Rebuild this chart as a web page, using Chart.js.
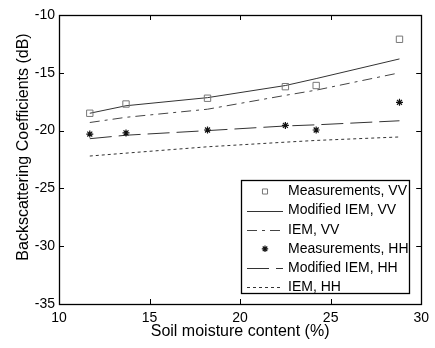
<!DOCTYPE html>
<html>
<head>
<meta charset="utf-8">
<script src="https://cdn.jsdelivr.net/npm/chart.js@4/dist/chart.umd.min.js"></script>
<style>
html,body{margin:0;padding:0;background:#fff;}
canvas{display:block;}
</style>
</head>
<body>
<canvas id="c" width="435" height="348"></canvas>
<script>
const moisture = [11.7, 13.7, 18.2, 22.5, 24.2, 28.8];
const measVV   = [-18.5, -17.7, -17.2, -16.2, -16.1, -12.1];
const modIemVV = [-18.5, -17.85, -17.15, -16.1, -15.5, -13.8];
const iemVV    = [-19.3, -18.85, -18.15, -16.95, -16.5, -15.0];
const measHH   = [-20.3, -20.2, -19.95, -19.55, -19.95, -17.55];
const modIemHH = [-20.7, -20.4, -20.0, -19.6, -19.5, -19.15];
const iemHH    = [-22.2, -21.95, -21.4, -21.0, -20.85, -20.55];
const xTicks = [10, 15, 20, 25, 30];
const yTicks = [-35, -30, -25, -20, -15, -10];
const seriesLabels = ['Measurements, VV','Modified IEM, VV','IEM, VV','Measurements, HH','Modified IEM, HH','IEM, HH'];
const xTitle = 'Soil moisture content (%)';
const yTitle = 'Backscattering Coefficients (dB)';

const FONT = '"Liberation Sans", Arial, Helvetica, sans-serif';
Chart.defaults.font.family = FONT;
Chart.defaults.color = '#000';

const pts = arr => arr.map((v, i) => ({x: moisture[i], y: v}));

const datasets = [
  {label: seriesLabels[0], data: pts(measVV), showLine: false, pointStyle: 'rect', pointRadius: 4.5,
   borderColor: '#777', backgroundColor: 'rgba(0,0,0,0)', borderWidth: 1},
  {label: seriesLabels[1], data: pts(modIemVV), showLine: true, pointRadius: 0, borderColor: '#333', borderWidth: 1},
  {label: seriesLabels[2], data: pts(iemVV), showLine: true, pointRadius: 0, borderColor: '#444', borderWidth: 1, borderDash: [10, 5, 3, 5]},
  {label: seriesLabels[3], data: pts(measHH), showLine: false, pointStyle: 'star', pointRadius: 3.5,
   borderColor: '#111', backgroundColor: '#111', borderWidth: 1.2},
  {label: seriesLabels[4], data: pts(modIemHH), showLine: true, pointRadius: 0, borderColor: '#333', borderWidth: 1, borderDash: [22, 7]},
  {label: seriesLabels[5], data: pts(iemHH), showLine: true, pointRadius: 0, borderColor: '#333', borderWidth: 1, borderDash: [3, 3]}
];

const framePlugin = {
  id: 'frame',
  afterDatasetsDraw(chart) {
    const ctx = chart.ctx;
    const a = chart.chartArea;
    const xs = chart.scales.x, ys = chart.scales.y;
    ctx.save();
    ctx.strokeStyle = '#000';
    ctx.lineWidth = 1;
    ctx.setLineDash([]);
    // ticks inward
    ctx.beginPath();
    xTicks.forEach(v => {
      const p = Math.round(xs.getPixelForValue(v)) + 0.5;
      ctx.moveTo(p, a.bottom); ctx.lineTo(p, a.bottom - 5);
      ctx.moveTo(p, a.top); ctx.lineTo(p, a.top + 5);
    });
    yTicks.forEach(v => {
      const p = Math.round(ys.getPixelForValue(v)) + 0.5;
      ctx.moveTo(a.left, p); ctx.lineTo(a.left + 5, p);
      ctx.moveTo(a.right, p); ctx.lineTo(a.right - 5, p);
    });
    ctx.stroke();
    ctx.lineWidth = 1.3;
    ctx.strokeRect(Math.round(a.left) + 0.5, Math.round(a.top) + 0.5, Math.round(a.right - a.left), Math.round(a.bottom - a.top));

    // legend box
    const bx = 241, by = 180, bw = 168, bh = 113;
    ctx.fillStyle = '#fff';
    ctx.fillRect(bx, by, bw, bh);
    ctx.lineWidth = 1.3;
    ctx.strokeRect(bx + 0.5, by + 0.5, bw, bh);
    const rowY0 = 191.5, rowStep = 19.1;
    ctx.font = '14px ' + FONT;
    ctx.textBaseline = 'middle';
    ctx.textAlign = 'left';
    chart.data.datasets.forEach((ds, i) => {
      const y = rowY0 + i * rowStep;
      ctx.save();
      if (ds.showLine) {
        ctx.strokeStyle = ds.borderColor;
        ctx.lineWidth = ds.borderWidth;
        ctx.setLineDash(ds.borderDash || []);
        ctx.beginPath();
        ctx.moveTo(247, Math.round(y) + 0.5);
        ctx.lineTo(283, Math.round(y) + 0.5);
        ctx.stroke();
      } else {
        ctx.strokeStyle = ds.borderColor;
        ctx.fillStyle = ds.backgroundColor;
        ctx.lineWidth = ds.borderWidth;
        Chart.helpers.drawPoint(ctx, {pointStyle: ds.pointStyle, radius: ds.pointStyle === 'rect' ? 3.6 : 3.2, rotation: 0, borderWidth: ds.borderWidth}, 265, y);
      }
      ctx.restore();
      ctx.fillStyle = '#000';
      ctx.fillText(ds.label, 288, y);
    });

    // y-axis title
    ctx.save();
    ctx.translate(24, 147);
    ctx.rotate(-Math.PI / 2);
    ctx.font = '16px ' + FONT;
    ctx.textAlign = 'center';
    ctx.textBaseline = 'middle';
    ctx.fillStyle = '#000';
    ctx.fillText(yTitle, 0, 0);
    ctx.restore();
    ctx.restore();
  }
};

new Chart(document.getElementById('c'), {
  type: 'scatter',
  data: {datasets},
  options: {
    responsive: false,
    animation: false,
    devicePixelRatio: 1,
    layout: {padding: {left: 0, top: 15, right: 12, bottom: 0}},
    plugins: {legend: {display: false}, tooltip: {enabled: false}},
    scales: {
      x: {
        type: 'linear', min: 10, max: 30,
        afterBuildTicks: s => { s.ticks = xTicks.map(v => ({value: v})); },
        afterFit: s => { s.height = 44; },
        grid: {display: false, drawTicks: false},
        border: {display: false},
        ticks: {font: {size: 14}, padding: 6, color: '#000', maxRotation: 0},
        title: {display: true, text: xTitle, font: {size: 16}, color: '#000', padding: {top: 0, bottom: 7}}
      },
      y: {
        type: 'linear', min: -35, max: -10,
        afterBuildTicks: s => { s.ticks = yTicks.map(v => ({value: v})); },
        afterFit: s => { s.width = 59; },
        grid: {display: false, drawTicks: false},
        border: {display: false},
        ticks: {font: {size: 14}, padding: 4, color: '#000'},
        title: {display: false}
      }
    }
  },
  plugins: [framePlugin]
});
</script>
</body>
</html>
